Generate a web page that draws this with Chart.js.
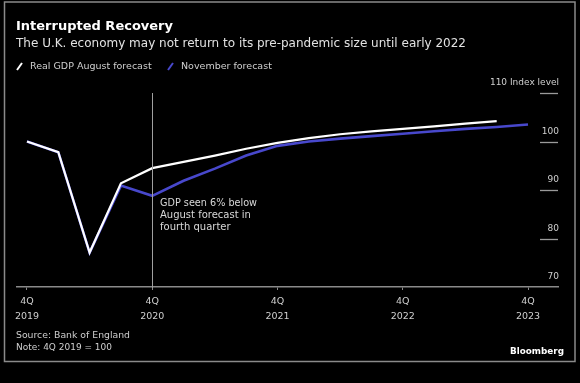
<!DOCTYPE html>
<html><head><meta charset="utf-8">
<script src="https://cdn.jsdelivr.net/npm/chart.js@4"></script>
<style>html,body{margin:0;padding:0;background:#000;}</style>
</head><body>
<canvas id="c" width="580" height="383"></canvas>
<script>
const quarters = ['4Q 2019','1Q 2020','2Q 2020','3Q 2020','4Q 2020','1Q 2021','2Q 2021','3Q 2021','4Q 2021','1Q 2022','2Q 2022','3Q 2022','4Q 2022','1Q 2023','2Q 2023','3Q 2023','4Q 2023'];
const augustForecast = [100.0, 97.8, 77.1, 91.4, 94.5, 95.8, 97.1, 98.5, 99.7, 100.7, 101.5, 102.1, 102.6, 103.1, 103.7, 104.2];
const novemberForecast = [100.0, 97.8, 77.1, 90.9, 88.8, 91.9, 94.4, 97.1, 99.1, 100.0, 100.6, 101.1, 101.6, 102.1, 102.6, 103.0, 103.5];
const seriesNames = ['Real GDP August forecast', 'November forecast'];
const seriesColors = ['#ffffff', '#4848cc'];
const xTickQuarters = ['4Q 2019','4Q 2020','4Q 2021','4Q 2022','4Q 2023'];
const yTicks = [70, 80, 90, 100, 110];
const yTickLabels = ['70', '80', '90', '100', '110 Index level'];
const markerQuarter = '4Q 2020';
const annotationLines = ['GDP seen 6% below', 'August forecast in', 'fourth quarter'];
const titleText = 'Interrupted Recovery';
const subtitleText = 'The U.K. economy may not return to its pre-pandemic size until early 2022';
const sourceLines = ['Source: Bank of England', 'Note: 4Q 2019 = 100'];
const brandText = 'Bloomberg';

const FONT = 'DejaVu Sans';
Chart.defaults.font.family = FONT;
const xTickPositions = xTickQuarters.map(q => quarters.indexOf(q));

const toPoints = arr => arr.map((v, i) => ({x: i, y: v}));

const decor = {
  id: 'decor',
  beforeDraw(chart) {
    const ctx = chart.ctx;
    ctx.save();
    ctx.fillStyle = '#000';
    ctx.fillRect(0, 0, chart.width, chart.height);
    ctx.restore();
  },
  afterDraw(chart) {
    const ctx = chart.ctx;
    const xs = chart.scales.x, ys = chart.scales.y, ca = chart.chartArea;
    ctx.save();
    // frame
    ctx.strokeStyle = '#8a8a8a';
    ctx.lineWidth = 1.5;
    ctx.strokeRect(4.5, 2, 570.5, 359.5);
    // y tick marks
    ctx.strokeStyle = '#9a9a9a';
    ctx.lineWidth = 1.3;
    yTicks.forEach(v => {
      if (v === ys.min) return;
      const y = Math.round(ys.getPixelForValue(v)) + 0.5;
      ctx.beginPath(); ctx.moveTo(ca.right - 18, y); ctx.lineTo(ca.right, y); ctx.stroke();
    });
    // vertical marker line
    const mx = Math.round(xs.getPixelForValue(quarters.indexOf(markerQuarter))) + 0.5;
    ctx.strokeStyle = '#a0a0a0';
    ctx.lineWidth = 1;
    ctx.beginPath(); ctx.moveTo(mx, ca.top); ctx.lineTo(mx, ca.bottom + 1); ctx.stroke();
    // annotation
    ctx.fillStyle = '#d8d8d8';
    ctx.font = '10px "' + FONT + '"';
    ctx.textBaseline = 'middle';
    ctx.textAlign = 'left';
    annotationLines.forEach((t, i) => ctx.fillText(t, mx + 7.5, 203 + i * 12, 97));
    // title
    ctx.fillStyle = '#ffffff';
    ctx.font = 'bold 13px "' + FONT + '"';
    ctx.textBaseline = 'alphabetic';
    ctx.fillText(titleText, 16, 30, 161);
    ctx.fillStyle = '#e2e2e2';
    ctx.font = '12px "' + FONT + '"';
    ctx.fillText(subtitleText, 16, 46.5, 479);
    // legend
    ctx.font = '9.5px "' + FONT + '"';
    ctx.textBaseline = 'middle';
    const legendItems = [{x: 17, tx: 30, w: 130}, {x: 168, tx: 181, w: 99}];
    legendItems.forEach((it, i) => {
      ctx.strokeStyle = seriesColors[i];
      ctx.lineWidth = 2;
      ctx.beginPath(); ctx.moveTo(it.x, 70); ctx.lineTo(it.x + 5, 63); ctx.stroke();
      ctx.fillStyle = '#cfcfcf';
      ctx.fillText(seriesNames[i], it.tx, 66.5, it.w);
    });
    // source
    ctx.fillStyle = '#cfcfcf';
    ctx.font = '9.5px "' + FONT + '"';
    ctx.fillText(sourceLines[0], 16, 336, 114);
    ctx.fillText(sourceLines[1], 16, 347.5, 96);
    // brand
    ctx.fillStyle = '#ffffff';
    ctx.font = 'bold 9.5px "' + FONT + '"';
    ctx.textAlign = 'right';
    ctx.fillText(brandText, 564, 351.5, 54);
    ctx.restore();
  }
};

new Chart(document.getElementById('c'), {
  type: 'line',
  data: {
    datasets: [
      {label: seriesNames[0], data: toPoints(augustForecast), borderColor: seriesColors[0], borderWidth: 2.2, pointRadius: 0, tension: 0, fill: false},
      {label: seriesNames[1], data: toPoints(novemberForecast), borderColor: seriesColors[1], borderWidth: 2.6, pointRadius: 0, tension: 0, fill: false}
    ]
  },
  options: {
    responsive: false,
    animation: false,
    devicePixelRatio: 1,
    layout: {padding: {left: 17, right: 22, top: 93, bottom: 0}},
    plugins: {legend: {display: false}, tooltip: {enabled: false}},
    scales: {
      x: {
        type: 'linear',
        min: -0.319, max: 16.958,
        afterBuildTicks: s => { s.ticks = xTickPositions.map(v => ({value: v})); },
        afterFit: s => { s.height = 96; },
        ticks: {
          color: '#cfcfcf', font: {size: 9.5, lineHeight: 1.55}, padding: 4, maxRotation: 0, autoSkip: false,
          callback: v => { const q = quarters[v]; return q ? q.split(' ') : ''; }
        },
        grid: {drawOnChartArea: false, drawTicks: true, tickLength: 3, color: '#8a8a8a'},
        border: {display: true, color: '#8a8a8a', width: 1.5}
      },
      y: {
        position: 'right',
        min: 70, max: 110,
        afterBuildTicks: s => { s.ticks = yTicks.map(v => ({value: v})); },
        afterFit: s => { s.width = 0; },
        ticks: {
          mirror: true, labelOffset: -10, padding: 1, color: '#cfcfcf', font: {size: 9},
          callback: v => yTickLabels[yTicks.indexOf(v)]
        },
        grid: {display: false, drawTicks: false},
        border: {display: false}
      }
    }
  },
  plugins: [decor]
});
</script>
</body></html>
